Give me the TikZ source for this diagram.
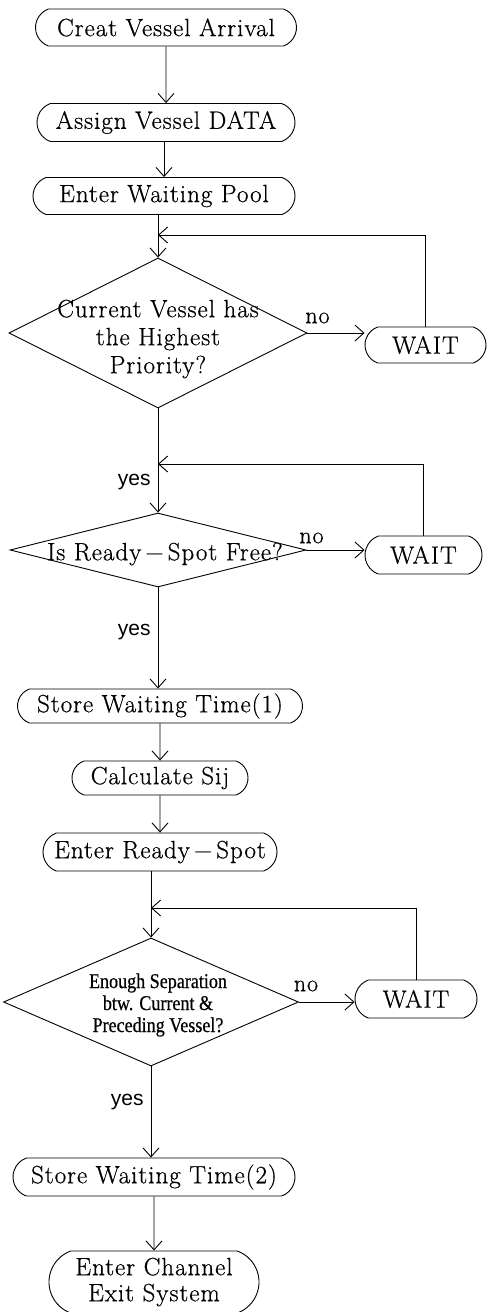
\documentclass[tikz,border=0pt]{standalone}
\usepackage{fontspec}
\usetikzlibrary{shapes.misc,shapes.geometric,arrows.meta,calc}
\setmainfont{Latin Modern Roman}[FakeBold=0.6, LetterSpace=4]
\newfontfamily\yesfont{Liberation Sans}
\newfontfamily\condfont{Liberation Serif}[FakeStretch=0.86,FakeBold=0.5]

\tikzset{
  base/.style={line width=0.9pt},
  proc/.style={draw, rounded rectangle, rounded rectangle arc length=140,
    inner sep=0pt, align=center, font=\fontsize{25}{26}\selectfont},
  decide/.style={draw, diamond, inner sep=0pt},
  dtext/.style={align=center, inner sep=0pt, font=\fontsize{25}{28}\selectfont},
  ctext/.style={align=center, inner sep=0pt, font=\condfont\fontsize{21}{22}\selectfont},
  nolbl/.style={inner sep=0pt, font=\fontsize{24}{28}\selectfont},
  yeslbl/.style={inner sep=0pt, anchor=east, font=\yesfont\fontsize{21}{24}\selectfont},
  flow/.style={-{Straight Barb[length=9pt,width=16pt]}},
}

\begin{document}
\begin{tikzpicture}[x=1pt, y=-1pt, base]
\useasboundingbox (0,0) rectangle (487,1312);

% main column
\node[proc, minimum width=261pt, minimum height=37pt] (n1) at (166,27.5) {Creat Vessel Arrival};
\node[proc, minimum width=258pt, minimum height=38pt] (n2) at (166,122.5) {Assign Vessel DATA};
\node[proc, minimum width=262pt, minimum height=37pt] (n3) at (164,196) {Enter Waiting Pool};

\node[decide, minimum width=298pt, minimum height=150pt] (d1) at (158,333) {};
\node[dtext] (t1) at (158,339) {Current Vessel has\\the Highest\\Priority?};
\node[proc, minimum width=121pt, minimum height=36pt] (w1) at (425.5,345) {WAIT};

\node[decide, minimum width=296pt, minimum height=74pt] (d2) at (158,550) {};
\node[dtext] (t2) at (165,554) {Is Ready\,−\,Spot Free?};
\node[proc, minimum width=117pt, minimum height=38pt] (w2) at (423.5,555) {WAIT};

\node[proc, minimum width=285pt, minimum height=34pt] (st1) at (160,706) {Store Waiting Time(1)};
\node[proc, minimum width=176pt, minimum height=34pt] (cs) at (160,778) {Calculate Sij};
\node[proc, minimum width=234pt, minimum height=38pt] (ers) at (160,852) {Enter Ready\,−\,Spot};

\node[decide, minimum width=295pt, minimum height=128pt] (d3) at (151,1002) {};
\node[ctext] (t3) at (158,1005) {Enough Separation\\btw. Current \&\\Preceding Vessel?};
\node[proc, minimum width=122pt, minimum height=38pt] (w3) at (416,999) {WAIT};

\node[proc, minimum width=282pt, minimum height=38pt] (st2) at (154,1177) {Store Waiting Time(2)};
\node[proc, minimum width=210pt, minimum height=62pt] (ec) at (154,1282) {Enter Channel\\Exit System};

% loop-back join points
\coordinate (fb1) at (d1.north |- 0,235);
\coordinate (fb2) at (d2.north |- 0,464);
\coordinate (fb3) at (d3.north |- 0,908);

% forward flow
\draw[flow] (n1) -- (n2);
\draw[flow] (n2.south -| n3.north) -- (n3.north);
\draw[flow] (n3.south -| d1.north) -- (d1.north);
\draw[flow] (d1.south) -- (d2.north);
\draw[flow] (d2.south) -- (d2.south |- st1.north);
\draw[flow] (st1) -- (cs);
\draw[flow] (cs) -- (ers);
\draw[flow] (ers.south -| d3.north) -- (d3.north);
\draw[flow] (d3.south) -- (d3.south |- st2.north);
\draw[flow] (st2) -- (ec);

% "no" branches
\draw[flow] (d1.east) -- (d1.east -| w1.west);
\draw[flow] (d2.east) -- (d2.east -| w2.west);
\draw[flow] (d3.east) -- (d3.east -| w3.west);

% waits loop back
\draw[flow] (w1.north) |- (fb1);
\draw[flow] (w2.north) |- (fb2);
\draw[flow] (w3.north) |- (fb3);

% branch labels
\node[nolbl] (no1) at ($(d1.east)+(10,-15)$) {no};
\node[nolbl] (no2) at ($(d2.east)+(5,-12)$) {no};
\node[nolbl] (no3) at ($(d3.east)+(7,-16)$) {no};
\node[yeslbl] (y1) at ($(d2.north)+(-7,-31)$) {yes};
\node[yeslbl] (y2) at ($(d2.south)+(-7,45)$) {yes};
\node[yeslbl] (y3) at ($(d3.south)+(-7,36)$) {yes};
\end{tikzpicture}
\end{document}
